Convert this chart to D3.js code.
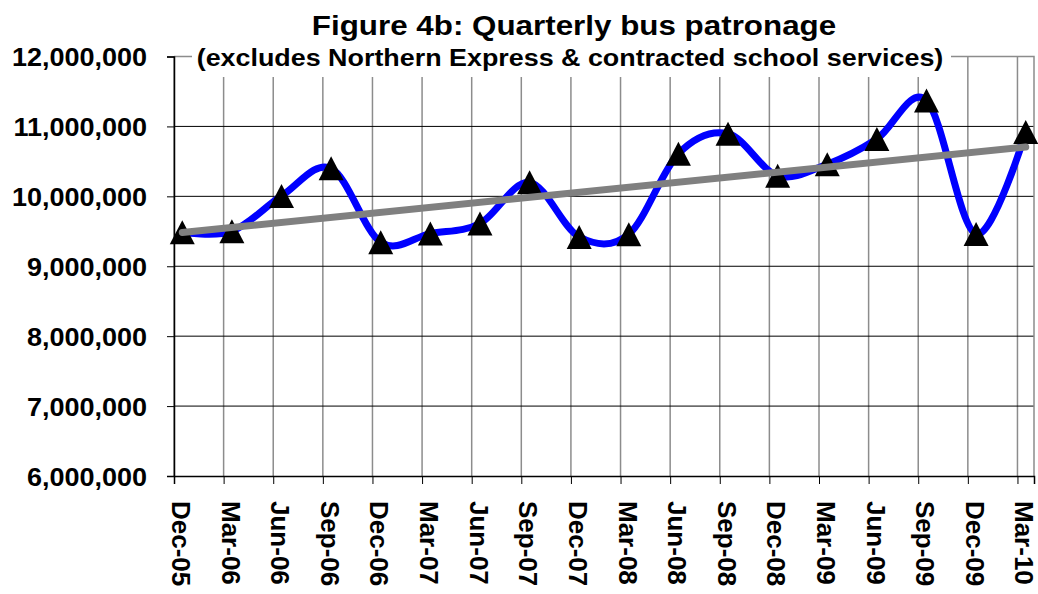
<!DOCTYPE html>
<html>
<head>
<meta charset="utf-8">
<script src="https://cdn.jsdelivr.net/npm/d3@7"></script>
<style>
  body { margin: 0; background: #fff; }
  text { font-family: "Liberation Sans", Arial, sans-serif; font-weight: bold; fill: #000; }
</style>
</head>
<body>
<div id="chart"></div>
<script>
// quarterly data
var quarters = ["Dec-05", "Mar-06", "Jun-06", "Sep-06", "Dec-06", "Mar-07", "Jun-07", "Sep-07", "Dec-07",
                "Mar-08", "Jun-08", "Sep-08", "Dec-08", "Mar-09", "Jun-09", "Sep-09", "Dec-09", "Mar-10"];
var patronage = [9486000, 9500000, 10004000, 10400000, 9343000, 9467000, 9610000, 10200000, 9419000,
                 9457000, 10610000, 10895000, 10296000, 10460000, 10820000, 11370000, 9460000, 10920000];
var yTicks = [6000000, 7000000, 8000000, 9000000, 10000000, 11000000, 12000000];

var W = 1038, H = 594;
var svg = d3.select("#chart").append("svg")
    .attr("width", W)
    .attr("height", H);

// month-based date axis: 52 months, each label at start of its month, points mid-month
var nMonths = quarters.length * 3 - 2;
var x = d3.scaleLinear().domain([0, nMonths]).range([174, 1034]);
var y = d3.scaleLinear().domain([6000000, 12000000]).range([476, 56.5]);

function px(i) { return x(i * 3 + 0.5); }
function tx(i) { return x(i * 3); }

// vertical gridlines
svg.append("g")
    .selectAll("line")
    .data(quarters)
    .enter()
    .append("line")
    .attr("x1", function (d, i) { return tx(i); })
    .attr("x2", function (d, i) { return tx(i); })
    .attr("y1", y(12000000))
    .attr("y2", y(6000000))
    .attr("stroke", "#8c8c8c")
    .attr("stroke-width", 1.5);

// horizontal gridlines
svg.append("g")
    .selectAll("line")
    .data(yTicks.slice(1, -1))
    .enter()
    .append("line")
    .attr("x1", x(0))
    .attr("x2", x(nMonths))
    .attr("y1", function (d) { return y(d); })
    .attr("y2", function (d) { return y(d); })
    .attr("stroke", "#000")
    .attr("stroke-width", 1);

// plot border top and right (gray)
svg.append("path")
    .attr("d", "M" + x(0) + "," + y(12000000) + "H" + x(nMonths) + "V" + y(6000000))
    .attr("fill", "none")
    .attr("stroke", "#8c8c8c")
    .attr("stroke-width", 1.5);

// y axis
var yAxis = svg.append("g")
    .attr("transform", "translate(" + x(0) + ",0)")
    .call(d3.axisLeft(y).tickValues(yTicks).tickSize(7).tickFormat(d3.format(",")));
yAxis.select(".domain").attr("stroke", "#000").attr("stroke-width", 1.5);
yAxis.selectAll(".tick line").attr("stroke", "#000").attr("stroke-width", 1);
yAxis.selectAll(".tick text")
    .attr("x", 0)
    .attr("dy", null)
    .attr("y", 0)
    .attr("text-anchor", "end")
    .attr("font-size", 25)
    .attr("transform", "translate(-27,9) scale(1.08,1)");

// x axis
var xAxis = svg.append("g")
    .attr("transform", "translate(0," + y(6000000) + ")")
    .call(d3.axisBottom(x).tickValues(quarters.map(function (d, i) { return i * 3; }))
        .tickSize(8).tickFormat(function (d) { return quarters[d / 3]; }));
xAxis.select(".domain").attr("stroke", "#000").attr("stroke-width", 1.5);
xAxis.selectAll(".tick line").attr("stroke", "#000").attr("stroke-width", 1);
xAxis.selectAll(".tick text")
    .attr("x", 0)
    .attr("y", 0)
    .attr("dy", null)
    .attr("text-anchor", "start")
    .attr("font-size", 26)
    .attr("transform", "translate(-2.5,25) rotate(90)");

// blue smoothed patronage line
var line = d3.line()
    .x(function (d, i) { return px(i); })
    .y(function (d) { return y(d); })
    .curve(d3.curveCardinal.tension(0));
svg.append("path")
    .datum(patronage)
    .attr("d", line)
    .attr("fill", "none")
    .attr("stroke", "#0000ff")
    .attr("stroke-width", 7);

// triangle markers
svg.append("g")
    .selectAll("path")
    .data(patronage)
    .enter()
    .append("path")
    .attr("d", "M0,-12L12.5,12L-12.5,12Z")
    .attr("transform", function (d, i) { return "translate(" + px(i) + "," + y(d) + ")"; })
    .attr("fill", "#000");

// linear trend (least squares on the quarterly values)
var n = patronage.length;
var mx = d3.mean(patronage, function (d, i) { return i; });
var my = d3.mean(patronage);
var sxy = d3.sum(patronage, function (d, i) { return (i - mx) * (d - my); });
var sxx = d3.sum(patronage, function (d, i) { return (i - mx) * (i - mx); });
var slope = sxy / sxx;
var trend = [0, n - 1].map(function (i) { return { i: i, v: my + slope * (i - mx) }; });
svg.append("line")
    .attr("x1", px(trend[0].i))
    .attr("y1", y(trend[0].v))
    .attr("x2", px(trend[1].i))
    .attr("y2", y(trend[1].v))
    .attr("stroke", "#808080")
    .attr("stroke-width", 7)
    .attr("stroke-linecap", "round");

// title block (white box hides the top of the grid)
svg.append("rect")
    .attr("x", 192)
    .attr("y", 0)
    .attr("width", 759)
    .attr("height", 77)
    .attr("fill", "#fff");
svg.append("text")
    .attr("text-anchor", "middle")
    .attr("font-size", 28)
    .attr("transform", "translate(574,35) scale(1.12,1)")
    .text("Figure 4b: Quarterly bus patronage");
svg.append("text")
    .attr("text-anchor", "middle")
    .attr("font-size", 24)
    .attr("transform", "translate(570,66) scale(1.12,1)")
    .text("(excludes Northern Express & contracted school services)");
</script>
</body>
</html>
